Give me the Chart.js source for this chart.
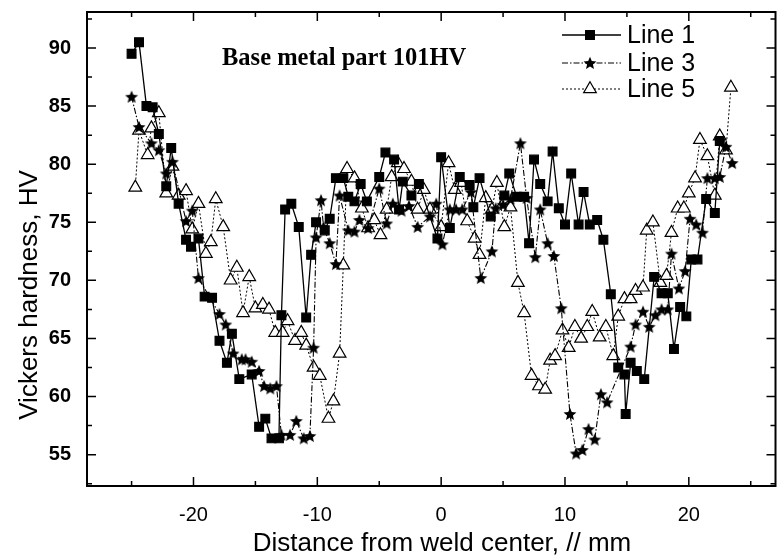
<!DOCTYPE html>
<html>
<head>
<meta charset="utf-8">
<script src="https://cdn.jsdelivr.net/npm/chart.js@4.4.1/dist/chart.umd.min.js"></script>
<style>
  html, body { margin: 0; padding: 0; background: #fff; }
  #grafico { display: block; }
</style>
</head>
<body>
<canvas id="grafico" width="784" height="560"></canvas>
<script>
// Datos (distancia en mm, dureza HV)
const line1X = [-25.0, -24.4, -23.8, -23.3, -22.8, -22.2, -21.8, -21.2, -20.6, -20.2, -19.6, -19.1, -18.5, -17.9, -17.3, -16.9, -16.3, -15.3, -14.7, -14.2, -13.7, -13.1, -12.9, -12.6, -12.1, -11.5, -10.9, -10.5, -10.1, -9.4, -9.0, -8.5, -7.9, -7.5, -7.0, -6.5, -6.0, -5.0, -4.5, -3.8, -3.4, -3.1, -2.4, -1.8, -0.3, 0.0, 0.7, 1.5, 2.3, 2.6, 3.1, 4.0, 5.1, 5.5, 6.1, 6.7, 7.1, 7.5, 8.0, 8.6, 9.0, 9.5, 10.0, 10.5, 11.1, 11.5, 12.0, 12.6, 13.1, 13.7, 14.3, 14.8, 14.9, 15.3, 15.8, 16.4, 17.2, 17.8, 18.3, 18.8, 19.3, 19.8, 20.2, 20.7, 21.4, 22.1, 22.5];
const line1Y = [89.5, 90.5, 85.0, 84.9, 82.6, 78.1, 81.4, 76.6, 73.5, 72.9, 73.6, 68.6, 68.5, 64.8, 62.9, 65.4, 61.5, 61.9, 57.4, 58.1, 56.4, 56.4, 67.0, 76.1, 76.6, 74.6, 66.8, 72.2, 75.0, 74.3, 75.3, 78.8, 78.8, 77.2, 76.8, 78.3, 76.8, 78.9, 81.0, 80.4, 76.1, 78.5, 77.3, 78.3, 73.6, 80.6, 74.5, 78.9, 78.2, 76.3, 78.8, 75.5, 77.3, 79.2, 77.2, 77.2, 73.2, 80.4, 78.3, 76.8, 81.1, 76.2, 74.8, 79.2, 74.8, 77.6, 74.8, 75.2, 73.5, 68.8, 62.5, 61.9, 58.5, 62.9, 62.2, 61.5, 70.3, 68.9, 68.9, 64.1, 67.7, 66.9, 71.8, 71.8, 77.0, 75.8, 82.0];

const line3X = [-25.0, -24.4, -23.4, -22.8, -22.2, -21.7, -20.6, -20.1, -19.6, -17.9, -17.4, -16.8, -16.1, -15.8, -15.3, -14.7, -14.3, -13.8, -13.3, -12.9, -12.2, -11.7, -11.1, -10.6, -10.3, -10.1, -9.7, -9.5, -9.0, -8.5, -8.2, -7.5, -7.0, -6.6, -5.9, -5.0, -4.4, -3.9, -3.2, -2.6, -1.9, -0.9, -0.4, 0.1, 0.7, 1.2, 1.7, 2.4, 3.2, 4.1, 4.4, 5.0, 5.6, 6.4, 6.9, 7.6, 8.0, 8.6, 9.1, 9.7, 10.4, 10.9, 11.4, 11.9, 12.4, 12.9, 13.4, 15.3, 15.7, 16.3, 16.8, 17.3, 17.8, 18.3, 18.6, 19.2, 19.7, 20.1, 20.6, 21.1, 21.5, 22.1, 22.5, 23.0, 23.5];
const line3Y = [85.8, 83.2, 81.8, 81.2, 79.2, 80.2, 75.1, 76.0, 70.2, 67.1, 66.2, 63.7, 63.2, 63.2, 63.0, 62.2, 60.9, 60.7, 60.9, 56.7, 56.7, 57.9, 56.4, 56.6, 64.2, 73.7, 76.9, 74.6, 73.2, 71.4, 77.3, 74.3, 74.2, 75.2, 74.5, 77.9, 74.9, 76.6, 76.0, 76.4, 74.6, 75.5, 76.6, 73.1, 76.1, 76.1, 76.1, 77.6, 70.2, 72.5, 76.2, 76.5, 77.0, 81.8, 77.1, 72.0, 76.1, 73.2, 72.1, 67.6, 58.5, 55.1, 55.4, 57.2, 56.3, 60.2, 59.5, 64.3, 66.2, 67.3, 66.0, 67.0, 67.5, 67.5, 72.3, 69.3, 70.8, 75.3, 74.8, 74.1, 78.8, 78.8, 78.9, 81.5, 80.1];

const line5X = [-24.7, -24.4, -23.7, -23.4, -22.8, -22.2, -21.7, -21.2, -20.6, -20.1, -19.6, -19.0, -18.6, -18.2, -17.6, -17.0, -16.5, -16.0, -15.5, -15.0, -14.4, -13.9, -13.4, -12.8, -12.4, -11.8, -11.3, -10.9, -10.3, -9.8, -9.1, -8.7, -8.2, -7.9, -7.6, -7.0, -6.4, -5.9, -5.4, -4.9, -4.4, -4.0, -3.5, -3.0, -2.4, -1.9, -1.4, -0.9, 0.0, 0.6, 1.1, 1.6, 2.1, 2.7, 3.1, 3.6, 4.1, 4.5, 5.1, 5.6, 6.2, 6.7, 7.3, 7.9, 8.4, 8.8, 9.2, 9.8, 10.3, 10.8, 11.3, 11.8, 12.2, 12.8, 13.3, 13.9, 14.3, 14.8, 15.3, 15.7, 16.3, 16.6, 17.1, 17.7, 18.2, 18.6, 19.1, 19.6, 20.0, 20.5, 20.9, 21.5, 22.1, 22.5, 23.0, 23.4];
const line5Y = [78.0, 82.9, 80.8, 83.1, 84.4, 77.5, 79.8, 77.3, 77.7, 74.4, 76.6, 72.3, 73.3, 77.0, 74.6, 70.0, 71.1, 67.2, 70.3, 67.6, 67.9, 67.5, 65.5, 65.5, 66.5, 64.8, 65.5, 64.4, 62.5, 61.8, 58.1, 59.6, 63.7, 71.3, 79.6, 78.8, 76.2, 74.5, 75.2, 73.9, 76.1, 78.9, 80.1, 79.6, 78.5, 76.1, 77.8, 76.1, 74.6, 80.1, 77.8, 78.4, 75.1, 73.6, 72.2, 77.1, 76.1, 78.4, 74.6, 76.3, 69.8, 67.2, 61.8, 60.9, 60.6, 63.1, 63.5, 65.7, 64.2, 66.0, 65.0, 66.0, 67.3, 65.1, 66.0, 63.5, 66.9, 68.4, 68.4, 69.1, 69.4, 74.3, 75.0, 69.8, 70.4, 74.1, 76.2, 76.2, 77.5, 78.8, 82.1, 80.7, 77.3, 82.4, 81.2, 86.6];

const seriesNames = ['Line 1', 'Line 3', 'Line 5'];

// Marcas de los ejes
const xTickLabels = [-20, -10, 0, 10, 20];
const xMinorTicks = [-25, -15, -5, 5, 15, 25];
const yTickLabels = [55, 60, 65, 70, 75, 80, 85, 90];
const yMinorTicks = [52.5, 57.5, 62.5, 67.5, 72.5, 77.5, 82.5, 87.5, 92.5];

const SANS = '"Liberation Sans", Arial, sans-serif';

function toPoints(xs, ys) {
    return xs.map((x, i) => ({ x: x, y: ys[i] }));
}

// estrella rellena como marcador
function crearEstrella(r) {
    const c = document.createElement('canvas');
    const s = Math.ceil(r * 2 + 2);
    c.width = s; c.height = s;
    const g = c.getContext('2d');
    g.fillStyle = '#000';
    g.beginPath();
    for (let i = 0; i < 10; i++) {
        const rad = i % 2 === 0 ? r : r * 0.45;
        const a = -Math.PI / 2 + i * Math.PI / 5;
        const px = s / 2 + rad * Math.cos(a);
        const py = s / 2 + 0.5 + rad * Math.sin(a);
        if (i === 0) g.moveTo(px, py); else g.lineTo(px, py);
    }
    g.closePath();
    g.fill();
    return c;
}
const estrella = crearEstrella(6.8);

const estilos = [
    { dash: [], width: 1.3, pointStyle: 'rect', radius: 6.2, bg: '#000' },
    { dash: [6, 2, 1.5, 2], width: 1.1, pointStyle: estrella, radius: 6, bg: '#000' },
    { dash: [2, 2], width: 1, pointStyle: 'triangle', radius: 7.3, bg: '#fff' }
];

// Marco, marcas interiores, textos y leyenda
const decoracion = {
    id: 'decoracion',
    afterDraw(chart) {
        const { ctx, chartArea: a, scales: { x, y } } = chart;
        ctx.save();
        ctx.strokeStyle = '#000';
        ctx.lineWidth = 2;
        ctx.strokeRect(a.left, a.top, a.right - a.left, a.bottom - a.top);

        ctx.lineWidth = 1.5;
        const tickX = (vals, len) => vals.forEach(v => {
            const px = x.getPixelForValue(v);
            ctx.beginPath();
            ctx.moveTo(px, a.bottom); ctx.lineTo(px, a.bottom - len);
            ctx.moveTo(px, a.top); ctx.lineTo(px, a.top + len);
            ctx.stroke();
        });
        const tickY = (vals, len) => vals.forEach(v => {
            const py = y.getPixelForValue(v);
            ctx.beginPath();
            ctx.moveTo(a.left, py); ctx.lineTo(a.left + len, py);
            ctx.moveTo(a.right, py); ctx.lineTo(a.right - len, py);
            ctx.stroke();
        });
        tickX(xTickLabels, 9);
        tickX(xMinorTicks.filter(v => v <= x.max), 5);
        tickY(yTickLabels, 9);
        tickY(yMinorTicks.filter(v => v <= y.max), 5);

        // titulos de ejes
        ctx.fillStyle = '#000';
        ctx.textAlign = 'center';
        ctx.textBaseline = 'middle';
        ctx.font = '26px ' + SANS;
        ctx.fillText('Distance from weld center, // mm', 442, 544);
        ctx.save();
        ctx.translate(30, 295);
        ctx.rotate(-Math.PI / 2);
        ctx.fillText('Vickers hardness, HV', 0, 0);
        ctx.restore();

        // nota
        ctx.textAlign = 'left';
        ctx.font = 'bold 24.5px "Liberation Serif", "Times New Roman", serif';
        ctx.fillText('Base metal part 101HV', 222, 59);

        // leyenda
        const filas = [35, 63, 89];
        chart.data.datasets.forEach((ds, i) => {
            const yy = filas[i];
            ctx.save();
            ctx.lineWidth = ds.borderWidth;
            ctx.setLineDash(ds.borderDash);
            ctx.beginPath();
            ctx.moveTo(562, yy); ctx.lineTo(621, yy);
            ctx.stroke();
            ctx.restore();
            ctx.save();
            ctx.fillStyle = ds.pointBackgroundColor;
            ctx.strokeStyle = '#000';
            ctx.lineWidth = 1.2;
            Chart.helpers.drawPoint(ctx, {
                pointStyle: ds.pointStyle, radius: ds.pointRadius, borderWidth: 1.2, rotation: 0
            }, 590, yy);
            ctx.restore();
            ctx.fillStyle = '#000';
            ctx.font = '25px ' + SANS;
            ctx.textAlign = 'left';
            ctx.fillText(ds.label, 627, yy + 1);
        });
        ctx.restore();
    }
};

const ctx = document.getElementById('grafico').getContext('2d');
const miGrafico = new Chart(ctx, {
    type: 'line',
    data: {
        datasets: [line1X, line3X, line5X].map((xs, i) => {
            const ys = [line1Y, line3Y, line5Y][i];
            const e = estilos[i];
            return {
                label: seriesNames[i],
                data: toPoints(xs, ys),
                borderColor: '#000',
                borderWidth: e.width,
                borderDash: e.dash,
                pointStyle: e.pointStyle,
                pointRadius: e.radius,
                pointHoverRadius: e.radius,
                pointBackgroundColor: e.bg,
                pointBorderColor: '#000',
                pointBorderWidth: 1.2,
                tension: 0,
                fill: false
            };
        })
    },
    options: {
        responsive: false,
        animation: false,
        devicePixelRatio: 1,
        layout: { padding: { top: 12, right: 3, left: 0, bottom: 0 } },
        plugins: {
            legend: { display: false },
            tooltip: { enabled: false }
        },
        scales: {
            x: {
                type: 'linear',
                min: -28.6,
                max: 27.0,
                grid: { display: false, drawTicks: false },
                border: { display: false },
                afterBuildTicks: (s) => { s.ticks = xTickLabels.map(v => ({ value: v })); },
                afterFit: (s) => { s.height = 74; s.paddingLeft = 0; s.paddingRight = 0; },
                ticks: {
                    color: '#000',
                    padding: 17,
                    maxRotation: 0,
                    font: { family: SANS, size: 20 }
                }
            },
            y: {
                type: 'linear',
                min: 52.3,
                max: 93.1,
                grid: { display: false, drawTicks: false },
                border: { display: false },
                afterBuildTicks: (s) => { s.ticks = yTickLabels.map(v => ({ value: v })); },
                afterFit: (s) => { s.width = 87; s.paddingTop = 0; s.paddingBottom = 0; },
                ticks: {
                    color: '#000',
                    padding: 16,
                    font: { family: SANS, size: 20, weight: 'bold' }
                }
            }
        }
    },
    plugins: [decoracion]
});
</script>
</body>
</html>
